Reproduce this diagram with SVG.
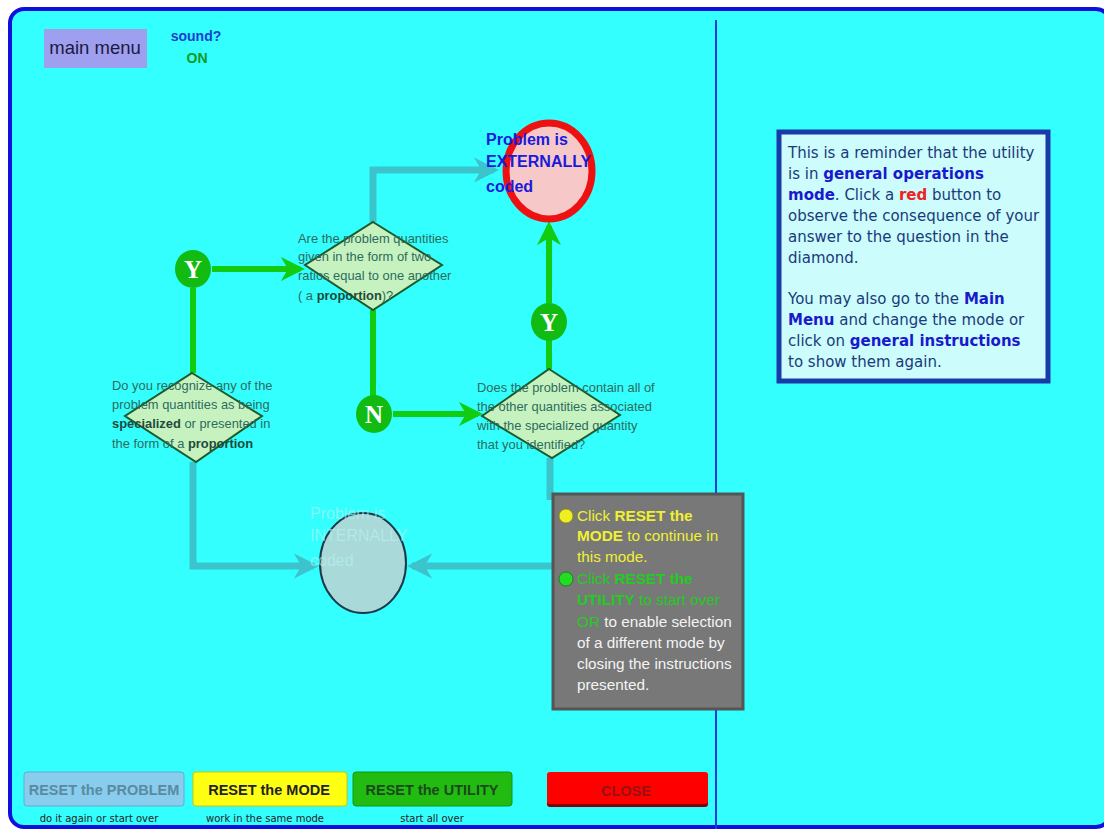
<svg xmlns="http://www.w3.org/2000/svg" width="1104" height="829" viewBox="0 0 1104 829">
<defs>
<style>
.q{font-family:"Liberation Sans",Arial,sans-serif;font-size:12.9px;fill:#2d6b5c}
.b{font-weight:bold;fill:#1f4a3a}
.dia{fill:#c6f2c0;stroke:#1d5a2a;stroke-width:2}
.gl{stroke:#11cc11;stroke-width:6;fill:none}
.tl{stroke:#3cc4cc;stroke-width:7;fill:none}
.yn{fill:#11bb11}
.ynt{font-family:"Liberation Serif","Times New Roman",serif;font-weight:bold;font-size:25px;fill:#fff;text-anchor:middle}
.gb{font-family:"Liberation Sans",Arial,sans-serif;font-size:15.3px}
.rt{font-family:"DejaVu Sans",Verdana,sans-serif;font-size:15px;fill:#1a3a7a}
.rb{font-weight:bold;fill:#1a1acc}
.btn{font-family:"Liberation Sans",Arial,sans-serif;font-size:14.5px;font-weight:bold;text-anchor:middle}
.sub{font-family:"DejaVu Sans",sans-serif;font-size:10px;fill:#222;text-anchor:middle}
</style>
<marker id="ga" viewBox="0 0 10 10" refX="8" refY="5" markerWidth="4" markerHeight="4" orient="auto" markerUnits="strokeWidth"><path d="M0,0 L10,5 L0,10 L3,5 z" fill="#11cc11"/></marker>
<marker id="ta" viewBox="0 0 10 10" refX="8" refY="5" markerWidth="3.6" markerHeight="3.6" orient="auto" markerUnits="strokeWidth"><path d="M0,0 L10,5 L0,10 L3,5 z" fill="#3cc4cc"/></marker>
</defs>
<rect width="1104" height="829" fill="#fff"/>
<rect x="10" y="9" width="1100" height="818" rx="14" fill="#33ffff" stroke="#1010dd" stroke-width="4"/>
<line x1="716" y1="20" x2="716" y2="829" stroke="#1a3add" stroke-width="2"/>

<g id="header">
<rect x="44" y="29" width="103" height="39" fill="#9f9ff0"/>
<text x="95" y="54" font-family="Liberation Sans,Arial,sans-serif" font-size="18.5" fill="#1a1a40" text-anchor="middle">main menu</text>
<text x="196" y="41" font-family="Liberation Sans,Arial,sans-serif" font-size="14" font-weight="bold" fill="#1a3fd0" text-anchor="middle">sound?</text>
<text x="197" y="63" font-family="Liberation Sans,Arial,sans-serif" font-size="14" font-weight="bold" fill="#119922" text-anchor="middle">ON</text>
</g>

<g id="connectors">
<path class="tl" d="M373,222 V170 H494" marker-end="url(#ta)"/>
<path class="tl" d="M193,462 V566 H314" marker-end="url(#ta)"/>
<path class="tl" d="M550,458 V500"/>
<path class="tl" d="M553,566 H412" marker-end="url(#ta)"/>
<path class="gl" d="M212,269 H300" marker-end="url(#ga)"/>
<path class="gl" d="M193,288 V373"/>
<path class="gl" d="M373,310 V396"/>
<path class="gl" d="M393,414 H478" marker-end="url(#ga)"/>
<path class="gl" d="M549,369 V340"/>
<path class="gl" d="M549,303 V226" marker-end="url(#ga)"/>
</g>

<g id="externally">
<ellipse cx="549" cy="171" rx="43" ry="48" fill="#f6c8c8" stroke="#ee1111" stroke-width="7"/>
<text font-family="Liberation Sans,Arial,sans-serif" font-size="16" font-weight="bold" fill="#1a1adb"><tspan x="486" y="145">Problem is</tspan><tspan x="486" y="167">EXTERNALLY</tspan><tspan x="486" y="192">coded</tspan></text>
</g>

<g id="internally">
<ellipse cx="363" cy="563" rx="43" ry="50" fill="#a9d9d9" stroke="#1a3a4a" stroke-width="2"/>
<text font-family="Liberation Sans,Arial,sans-serif" font-size="16" fill="#b8f4f4" opacity="0.6"><tspan x="310" y="519">Problem is</tspan><tspan x="310" y="541">INTERNALLY</tspan><tspan x="310" y="566">coded</tspan></text>
</g>

<g id="q-proportion">
<polygon class="dia" points="373,222 442,265 373,310 305,265"/>
<text class="q"><tspan x="298" y="243">Are the problem quantities</tspan><tspan x="298" y="261">given in the form of two</tspan><tspan x="298" y="280">ratios equal to one another</tspan><tspan x="298" y="300">( a <tspan class="b">proportion</tspan>)?</tspan></text>
</g>

<g id="q-recognize">
<polygon class="dia" points="192,373 262,416 196,462 125,416"/>
<text class="q"><tspan x="112" y="390">Do you recognize any of the</tspan><tspan x="112" y="409">problem quantities as being</tspan><tspan x="112" y="428"><tspan class="b">specialized</tspan> or presented in</tspan><tspan x="112" y="448">the form of a <tspan class="b">proportion</tspan></tspan></text>
</g>

<g id="q-contain">
<polygon class="dia" points="549,369 620,415 552,458 482,416"/>
<text class="q"><tspan x="477" y="392">Does the problem contain all of</tspan><tspan x="477" y="411">the other quantities associated</tspan><tspan x="477" y="430">with the specialized quantity</tspan><tspan x="477" y="449">that you identified?</tspan></text>
</g>

<g id="yes1"><ellipse class="yn" cx="193" cy="269" rx="18" ry="19"/><text class="ynt" x="193" y="278">Y</text></g>
<g id="no1"><ellipse class="yn" cx="374" cy="414" rx="18" ry="19"/><text class="ynt" x="374" y="423">N</text></g>
<g id="yes2"><ellipse class="yn" cx="549" cy="322" rx="18" ry="19"/><text class="ynt" x="549" y="331">Y</text></g>

<g id="hint">
<rect x="553" y="494" width="190" height="215" fill="#787878" stroke="#555" stroke-width="3"/>
<circle cx="566" cy="516" r="7" fill="#eeee22" stroke="#888800" stroke-width="0.8"/>
<circle cx="566" cy="579" r="7" fill="#22dd22" stroke="#117711" stroke-width="0.8"/>
<text class="gb" fill="#f0f033"><tspan x="577" y="521">Click <tspan font-weight="bold">RESET the</tspan></tspan><tspan x="577" y="541"><tspan font-weight="bold">MODE</tspan> to continue in</tspan><tspan x="577" y="562">this mode.</tspan></text>
<text class="gb" fill="#22cc22"><tspan x="577" y="584">Click <tspan font-weight="bold">RESET the</tspan></tspan><tspan x="577" y="605"><tspan font-weight="bold">UTILITY</tspan> to start over</tspan><tspan x="577" y="627">OR <tspan fill="#f4f4f4">to enable selection</tspan></tspan></text>
<text class="gb" fill="#f4f4f4"><tspan x="577" y="648">of a different mode by</tspan><tspan x="577" y="669">closing the instructions</tspan><tspan x="577" y="690">presented.</tspan></text>
</g>

<g id="reminder">
<rect x="779" y="132" width="269" height="249" fill="#ccfcfc" stroke="#1a3aaa" stroke-width="5"/>
<text class="rt"><tspan x="788" y="158">This is a reminder that the utility</tspan><tspan x="788" y="179">is in <tspan class="rb">general operations</tspan></tspan><tspan x="788" y="200"><tspan class="rb">mode</tspan>. Click a <tspan font-weight="bold" fill="#ee2222">red</tspan> button to</tspan><tspan x="788" y="221">observe the consequence of your</tspan><tspan x="788" y="242">answer to the question in the</tspan><tspan x="788" y="263">diamond.</tspan><tspan x="788" y="304">You may also go to the <tspan class="rb">Main</tspan></tspan><tspan x="788" y="325"><tspan class="rb">Menu</tspan> and change the mode or</tspan><tspan x="788" y="346">click on <tspan class="rb">general instructions</tspan></tspan><tspan x="788" y="367">to show them again.</tspan></text>
</g>

<g id="btn-problem">
<rect x="24" y="772" width="160" height="34" rx="3" fill="#88ccee" stroke="#6aaac8"/>
<text class="btn" x="104" y="795" fill="#5a8aa0">RESET the PROBLEM</text>
<text class="sub" x="99" y="822">do it again or start over</text>
</g>
<g id="btn-mode">
<rect x="193" y="772" width="154" height="34" rx="3" fill="#ffff11" stroke="#c8c800"/>
<text class="btn" x="269" y="795" fill="#222">RESET the MODE</text>
<text class="sub" x="265" y="822">work in the same mode</text>
</g>
<g id="btn-utility">
<rect x="353" y="772" width="159" height="34" rx="3" fill="#22bb11" stroke="#119911"/>
<text class="btn" x="432" y="795" fill="#1a4a1a">RESET the UTILITY</text>
<text class="sub" x="432" y="822">start all over</text>
</g>
<g id="btn-close">
<rect x="547" y="773" width="161" height="34" rx="3" fill="#880000"/>
<rect x="547" y="772" width="161" height="32" rx="3" fill="#ff0000"/>
<text class="btn" x="626" y="796" fill="#991111">CLOSE</text>
</g>
</svg>
